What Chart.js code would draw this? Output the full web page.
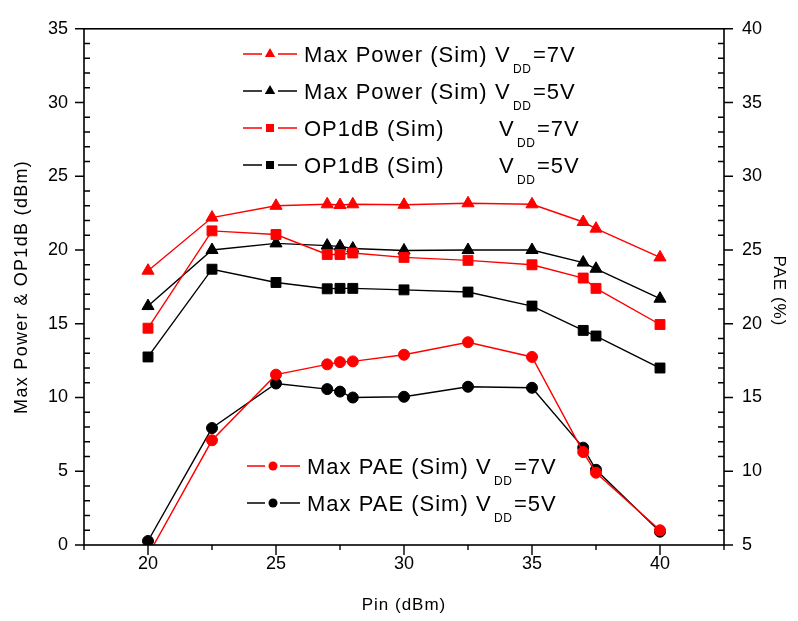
<!DOCTYPE html>
<html>
<head>
<meta charset="utf-8">
<script src="https://cdn.jsdelivr.net/npm/chart.js@4.4.1/dist/chart.umd.min.js"></script>
<style>
    html, body { margin: 0; padding: 0; background: #fff; }
    canvas { display: block; }
</style>
</head>
<body>
<canvas id="chart" width="798" height="621"></canvas>
<script>
// Pin sweep (dBm)
const pin = [20, 22.5, 25, 27, 27.5, 28, 30, 32.5, 35, 37, 37.5, 40];

// left axis (dBm)
const maxPower7V = [18.6, 22.2, 23.0, 23.1, 23.05, 23.1, 23.07, 23.17, 23.1, 21.9, 21.45, 19.5];
const maxPower5V = [16.2, 20.0, 20.45, 20.3, 20.25, 20.1, 19.97, 20.0, 20.0, 19.15, 18.73, 16.7];
const op1dB7V = [14.7, 21.3, 21.05, 19.7, 19.7, 19.8, 19.5, 19.3, 19.0, 18.1, 17.4, 14.95];
const op1dB5V = [12.75, 18.7, 17.8, 17.37, 17.4, 17.4, 17.3, 17.15, 16.2, 14.55, 14.17, 12.0];

// right axis (%)
const maxPAE7V = [4.3, 12.1, 16.55, 17.25, 17.4, 17.45, 17.9, 18.75, 17.75, 11.3, 9.9, 6.0];
const maxPAE5V = [5.27, 12.93, 15.95, 15.57, 15.4, 15.0, 15.05, 15.73, 15.66, 11.6, 10.1, 5.9];

const xTickValues = [20, 25, 30, 35, 40];
const xTitle = 'Pin (dBm)';
const yTitle = 'Max Power & OP1dB (dBm)';
const y1Title = 'PAE (%)';

// legend text: main label, subscript, tail
const legendTop = [
    ['Max Power (Sim) ', 'DD', '=7V'],
    ['Max Power (Sim) ', 'DD', '=5V'],
    ['OP1dB (Sim)', 'DD', '=7V'],
    ['OP1dB (Sim)', 'DD', '=5V']
];
const legendBottom = [
    ['Max PAE (Sim) ', 'DD', '=7V'],
    ['Max PAE (Sim) ', 'DD', '=5V']
];

const RED = '#ff0000';
const BLACK = '#000000';
const FONT = "'Liberation Sans', Arial, sans-serif";

function toPoints(ys) {
    return pin.map((x, i) => ({ x: x, y: ys[i] }));
}

function series(label, ys, color, style, radius, axis) {
    return {
        label: label,
        data: toPoints(ys),
        yAxisID: axis,
        borderColor: color,
        backgroundColor: color,
        borderWidth: 1.4,
        pointStyle: style,
        pointRadius: radius,
        pointHoverRadius: radius,
        pointBackgroundColor: color,
        pointBorderColor: color,
        pointBorderWidth: 1,
        tension: 0
    };
}

function drawMarker(ctx, style, x, y, r) {
    ctx.beginPath();
    if (style === 'triangle') {
        for (let k = 0; k < 3; k++) {
            const a = k * 2 * Math.PI / 3;
            const px = x + Math.sin(a) * r, py = y - Math.cos(a) * r;
            if (k === 0) ctx.moveTo(px, py); else ctx.lineTo(px, py);
        }
        ctx.closePath();
    } else if (style === 'rect') {
        ctx.rect(x - r, y - r, 2 * r, 2 * r);
    } else {
        ctx.arc(x, y, r, 0, Math.PI * 2);
    }
    ctx.fill();
}

function legendRow(ctx, entry, color, style, mr, opt) {
    const my = opt.base - 8;
    ctx.strokeStyle = color;
    ctx.fillStyle = color;
    ctx.lineWidth = 1.5;
    ctx.beginPath();
    ctx.moveTo(opt.l0, my); ctx.lineTo(opt.l1, my);
    ctx.moveTo(opt.l2, my); ctx.lineTo(opt.l3, my);
    ctx.stroke();
    drawMarker(ctx, style, opt.mx, my, mr);

    ctx.fillStyle = '#000';
    ctx.textAlign = 'left';
    ctx.textBaseline = 'alphabetic';
    ctx.font = '22px ' + FONT;
    ctx.letterSpacing = '1px';
    ctx.fillText(entry[0], opt.tx, opt.base);
    ctx.fillText('V', opt.vx, opt.base);
    ctx.fillText(entry[2], opt.vx + 38, opt.base);
    ctx.font = '12px ' + FONT;
    ctx.letterSpacing = '0.5px';
    ctx.fillText(entry[1], opt.vx + 18, opt.base + 11);
    ctx.letterSpacing = '0px';
}

const frameAndLegend = {
    id: 'frameAndLegend',
    afterDraw(chart) {
        const ctx = chart.ctx;
        const a = chart.chartArea;
        const xs = chart.scales.x, ys = chart.scales.y, ys1 = chart.scales.y1;
        ctx.save();

        // frame
        ctx.strokeStyle = '#000';
        ctx.lineWidth = 1.6;
        ctx.strokeRect(a.left, a.top, a.right - a.left, a.bottom - a.top);

        // ticks: major outward, minor inward on y axes; all outward on x
        ctx.lineWidth = 1.4;
        ctx.beginPath();
        for (let v = 0; v <= 35; v++) {
            const py = ys.getPixelForValue(v);
            if (v % 5 === 0) { ctx.moveTo(a.left, py); ctx.lineTo(a.left - 9, py); }
            else { ctx.moveTo(a.left, py); ctx.lineTo(a.left + 6, py); }
        }
        for (let v = 5; v <= 40; v++) {
            const py = ys1.getPixelForValue(v);
            if (v % 5 === 0) { ctx.moveTo(a.right, py); ctx.lineTo(a.right + 9, py); }
            else { ctx.moveTo(a.right, py); ctx.lineTo(a.right - 6, py); }
        }
        for (let v = 17.5; v <= 42.5; v += 2.5) {
            const px = xs.getPixelForValue(v);
            const len = (v % 5 === 0) ? 10 : 5;
            ctx.moveTo(px, a.bottom); ctx.lineTo(px, a.bottom + len);
        }
        ctx.stroke();

        // axis titles
        ctx.fillStyle = '#000';
        ctx.font = '17px ' + FONT;
        ctx.letterSpacing = '1px';
        ctx.textAlign = 'center';
        ctx.textBaseline = 'middle';
        ctx.fillText(xTitle, (a.left + a.right) / 2, 605);

        ctx.save();
        ctx.font = '18px ' + FONT;
        ctx.letterSpacing = '1.3px';
        ctx.translate(22, (a.top + a.bottom) / 2);
        ctx.rotate(-Math.PI / 2);
        ctx.fillText(yTitle, 0, 0);
        ctx.restore();

        ctx.save();
        ctx.translate(779, (a.top + a.bottom) / 2 + 4);
        ctx.rotate(Math.PI / 2);
        ctx.fillText(y1Title, 0, 0);
        ctx.restore();
        ctx.letterSpacing = '0px';

        // legends
        const topStyles = [[RED, 'triangle', 6], [BLACK, 'triangle', 6], [RED, 'rect', 4], [BLACK, 'rect', 4]];
        const topV = [495, 495, 499, 499];
        legendTop.forEach((e, i) => {
            legendRow(ctx, e, topStyles[i][0], topStyles[i][1], topStyles[i][2], {
                base: 62 + i * 37, l0: 243, l1: 262, l2: 278, l3: 297, mx: 270, tx: 304, vx: topV[i]
            });
        });
        const botStyles = [[RED, 'circle', 4.5], [BLACK, 'circle', 4.5]];
        legendBottom.forEach((e, i) => {
            legendRow(ctx, e, botStyles[i][0], botStyles[i][1], botStyles[i][2], {
                base: 474 + i * 37, l0: 247, l1: 265, l2: 280, l3: 300, mx: 273, tx: 307, vx: 476
            });
        });

        ctx.restore();
    }
};

const tickFont = { family: FONT, size: 18 };

new Chart(document.getElementById('chart').getContext('2d'), {
    type: 'line',
    data: {
        datasets: [
            series('Max PAE (Sim) VDD=7V', maxPAE7V, RED, 'circle', 5.5, 'y1'),
            series('Max PAE (Sim) VDD=5V', maxPAE5V, BLACK, 'circle', 5.5, 'y1'),
            series('Max Power (Sim) VDD=7V', maxPower7V, RED, 'triangle', 7, 'y'),
            series('OP1dB (Sim) VDD=7V', op1dB7V, RED, 'rect', 7, 'y'),
            series('Max Power (Sim) VDD=5V', maxPower5V, BLACK, 'triangle', 7, 'y'),
            series('OP1dB (Sim) VDD=5V', op1dB5V, BLACK, 'rect', 7, 'y')
        ]
    },
    options: {
        responsive: false,
        animation: false,
        events: [],
        layout: { padding: { top: 23, left: 0, right: 0, bottom: 0 } },
        plugins: {
            legend: { display: false },
            tooltip: { enabled: false }
        },
        scales: {
            x: {
                type: 'linear',
                min: 17.5,
                max: 42.5,
                afterBuildTicks: scale => { scale.ticks = xTickValues.map(v => ({ value: v })); },
                afterFit: scale => { scale.height = 76; },
                grid: { display: false, drawTicks: false },
                border: { display: false },
                ticks: { color: '#000', font: tickFont, padding: 8, maxRotation: 0 }
            },
            y: {
                position: 'left',
                min: 0,
                max: 35,
                afterFit: scale => { scale.width = 84; },
                grid: { display: false, drawTicks: false },
                border: { display: false },
                ticks: { stepSize: 5, color: '#000', font: tickFont, padding: 16 }
            },
            y1: {
                position: 'right',
                min: 5,
                max: 40,
                afterFit: scale => { scale.width = 74; },
                grid: { display: false, drawTicks: false },
                border: { display: false },
                ticks: { stepSize: 5, color: '#000', font: tickFont, padding: 18 }
            }
        }
    },
    plugins: [frameAndLegend]
});
</script>
</body>
</html>
